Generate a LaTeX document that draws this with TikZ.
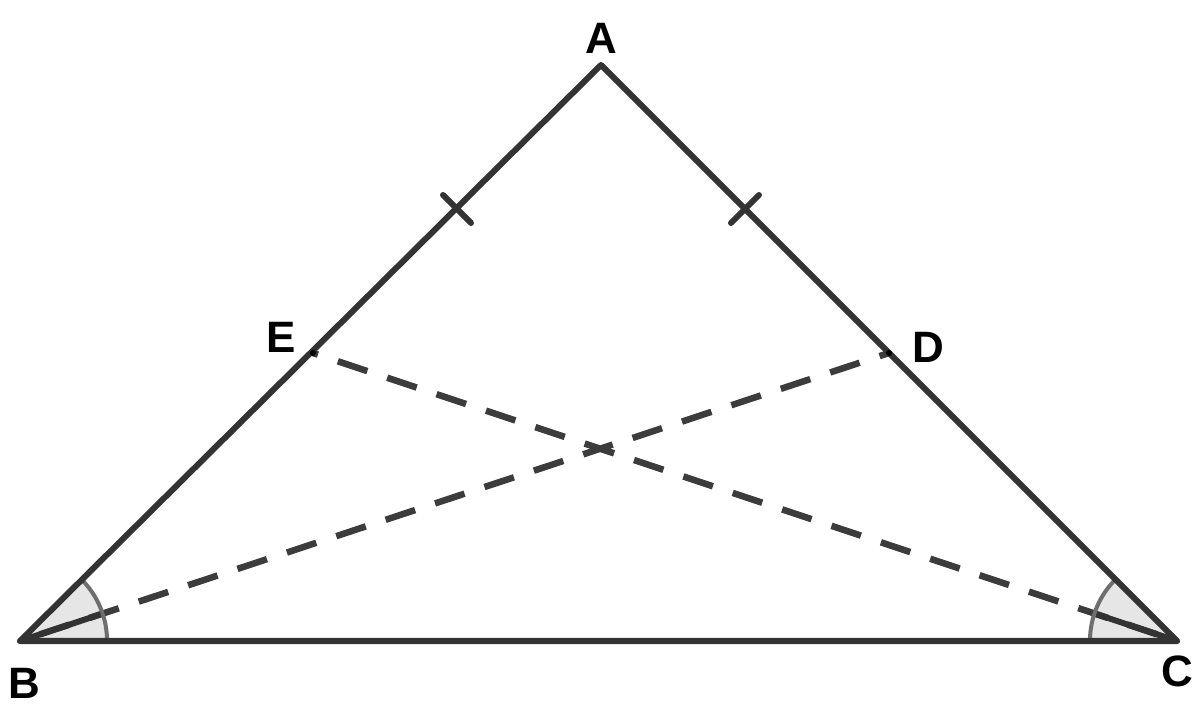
\documentclass[tikz,border=0pt]{standalone}
\usepackage{fontspec}
\setmainfont{Liberation Sans}
\definecolor{linec}{RGB}{51,51,51}
\definecolor{dashc}{RGB}{60,60,60}
\definecolor{arcc}{RGB}{110,110,110}
\definecolor{fillc}{RGB}{230,230,230}
\begin{document}
\begin{tikzpicture}[x=0.01cm,y=0.01cm,
  side/.style={draw=linec,line width=0.06cm,line cap=round,line join=round},
  dashline/.style={draw=dashc,line width=0.065cm,dash pattern=on 0.31cm off 0.21cm,dash phase=0.31cm},
  tickmark/.style={draw=linec,line width=0.06cm,line cap=round},
  anglearc/.style={draw=arcc,line width=0.04cm},
  lbl/.style={font=\fontsize{12.5}{14}\selectfont\bfseries,text=black,inner sep=0pt}]
\useasboundingbox (0,0) rectangle (1200,712);
\coordinate (A) at (601,647);
\coordinate (B) at (20,71);
\coordinate (C) at (1177,71);
\coordinate (E) at (313,359);
\coordinate (D) at (889,359);
\coordinate (T1a) at (443,517);
\coordinate (T1b) at (471,489);
\coordinate (T2a) at (731,489);
\coordinate (T2b) at (759,517);
% angle sectors
\fill[fillc] (B) -- ++(0:0.87cm) arc[start angle=0,end angle=44.76,radius=0.87cm] -- cycle;
\fill[fillc] (C) -- ++(135:0.87cm) arc[start angle=135,end angle=180,radius=0.87cm] -- cycle;
% dashed cevians
\path[dashline] (B) -- (D);
\path[dashline] (C) -- (E);
% solid parts inside the angle marks
\draw[side] (B) -- ++(18.33:0.87cm);
\draw[side] (C) -- ++(161.57:0.87cm);
% arcs
\draw[anglearc] (B) ++(0:0.87cm) arc[start angle=0,end angle=44.76,radius=0.87cm];
\draw[anglearc] (C) ++(135:0.87cm) arc[start angle=135,end angle=180,radius=0.87cm];
% triangle
\path[side] (A) -- (B) -- (C) -- cycle;
% ticks
\draw[tickmark] (T1a) -- (T1b);
\draw[tickmark] (T2a) -- (T2b);
% points
\fill[black] (E) circle[radius=0.03cm];
\fill[black] (D) circle[radius=0.03cm];
% labels
\node[lbl] (lA) at (601,674) {A};
\node[lbl] (lB) at (24,29) {B};
\node[lbl] (lC) at (1177,41) {C};
\node[lbl] (lE) at (281,375) {E};
\node[lbl] (lD) at (928,365) {D};
\end{tikzpicture}
\end{document}
